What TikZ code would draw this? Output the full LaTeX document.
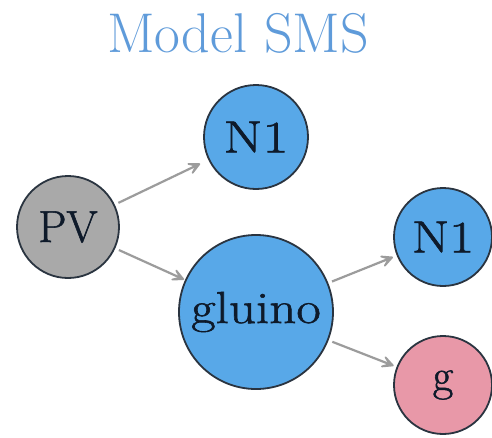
\documentclass[tikz,border=0pt]{standalone}
\usepackage{fontspec}
\usetikzlibrary{arrows.meta}
\newfontfamily\nodefont{Latin Modern Roman}[FakeBold=1.2]
\definecolor{nodeblue}{HTML}{58A8E8}
\definecolor{nodegray}{HTML}{A9A9A9}
\definecolor{nodepink}{HTML}{E898A8}
\definecolor{edgecol}{HTML}{9C9C9C}
\definecolor{bordercol}{HTML}{2A3440}
\definecolor{titlecol}{HTML}{5F9BDA}
\definecolor{textcol}{HTML}{0E1A2A}
\begin{document}
\begin{tikzpicture}[x=1pt,y=1pt,
  particle/.style={circle, draw=bordercol, line width=1.8pt, inner sep=0pt, text=textcol,
    font=\nodefont\fontsize{45}{50}\selectfont},
  edge/.style={draw=edgecol, line width=2.2pt,
    -{Stealth[length=19pt,width=19pt,inset=12pt,round]}}]
\useasboundingbox (0,0) rectangle (492,-437);
\fill[white] (0,0) rectangle (492,-437);
\node[text=titlecol, anchor=base, font=\fontsize{56}{64}\selectfont] (title) at (238,-52) {Model SMS};
\node[particle, fill=nodegray, minimum size=102pt] (pv) at (68,-227) {PV};
\node[particle, fill=nodeblue, minimum size=104pt] (n1a) at (256,-137) {\scalebox{1.25}[1]{N1}};
\node[particle, fill=nodeblue, minimum size=154pt] (gl) at (256,-312) {\scalebox{1.18}[1]{gluino}};
\node[particle, fill=nodeblue, minimum size=98pt] (n1b) at (443,-237) {\scalebox{1.2}[1]{N1}};
\node[particle, fill=nodepink, minimum size=98pt] (g) at (443,-385) {g};
\draw[edge, shorten <=4pt, shorten >=9pt] (pv) -- (n1a);
\draw[edge, shorten <=4pt, shorten >=1pt] (pv) -- (gl);
\draw[edge, shorten <=4pt, shorten >=4pt] (gl) -- (n1b);
\draw[edge, shorten <=4pt, shorten >=3pt] (gl) -- (g);
\end{tikzpicture}
\end{document}
